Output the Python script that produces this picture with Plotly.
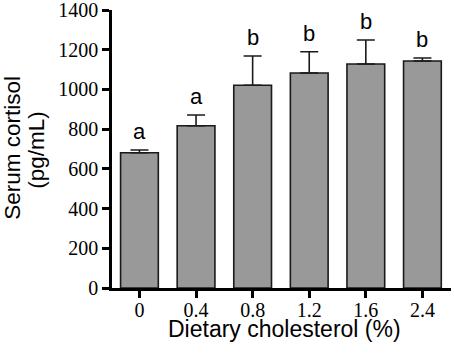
import plotly.graph_objects as go

categories = ["0", "0.4", "0.8", "1.2", "1.6", "2.4"]
means = [681, 817, 1021, 1083, 1128, 1143]
errors = [14, 54, 147, 107, 121, 15]
sig_letters = ["a", "a", "b", "b", "b", "b"]
y_ticks = [0, 200, 400, 600, 800, 1000, 1200, 1400]

x_pos = list(range(len(categories)))

SANS = "Liberation Sans, Arial"
SERIF = "Liberation Serif, Times New Roman"

fig = go.Figure()
fig.add_trace(go.Bar(
    x=x_pos, y=means, width=0.667,
    marker=dict(color="#999999", line=dict(color="#1a1a1a", width=1.6)),
    error_y=dict(type="data", array=errors, arrayminus=[0]*len(errors), symmetric=False,
                 color="#1a1a1a", thickness=1.6, width=9),
))

for xi, m, e, s in zip(x_pos, means, errors, sig_letters):
    fig.add_annotation(x=xi, y=m + e, text=s, showarrow=False, yanchor="bottom",
                       yshift=4, font=dict(family=SANS, size=22, color="black"))

# axis titles
fig.add_annotation(xref="paper", yref="paper", x=0.508, y=-0.148, text="Dietary cholesterol (%)",
                   showarrow=False, xanchor="center", yanchor="middle",
                   font=dict(family=SANS, size=23, color="black"))
fig.add_annotation(xref="paper", yref="paper", x=-0.2935, y=0.503, text="Serum cortisol",
                   showarrow=False, textangle=-90, xanchor="center", yanchor="middle",
                   font=dict(family=SANS, size=22.5, color="black"))
fig.add_annotation(xref="paper", yref="paper", x=-0.2212, y=0.497, text="(pg/mL)",
                   showarrow=False, textangle=-90, xanchor="center", yanchor="middle",
                   font=dict(family=SANS, size=22.5, color="black"))

fig.update_layout(
    width=454, height=355,
    margin=dict(l=112, r=3, t=10, b=67, autoexpand=False),
    paper_bgcolor="white", plot_bgcolor="white",
    showlegend=False,
)
fig.update_xaxes(
    tickmode="array", tickvals=x_pos, ticktext=categories,
    range=[-0.485, 5.505], automargin=False,
    showline=True, linecolor="black", linewidth=2.5,
    ticks="outside", ticklen=7, tickwidth=2.5, tickcolor="black",
    tickfont=dict(family=SERIF, size=20, color="black"),
    ticklabeloverflow="allow", ticklabelstandoff=-5,
    showgrid=False, zeroline=False,
)
fig.update_yaxes(
    tickmode="array", tickvals=y_ticks,
    range=[0, 1400], automargin=False,
    showline=True, linecolor="black", linewidth=2.5,
    ticks="outside", ticklen=7, tickwidth=2.5, tickcolor="black",
    tickfont=dict(family=SERIF, size=20, color="black"),
    ticklabeloverflow="allow",
    showgrid=False, zeroline=False,
)

fig.write_html("out.html", config={"displayModeBar": False},
               post_script="document.body.style.margin='0px';")
